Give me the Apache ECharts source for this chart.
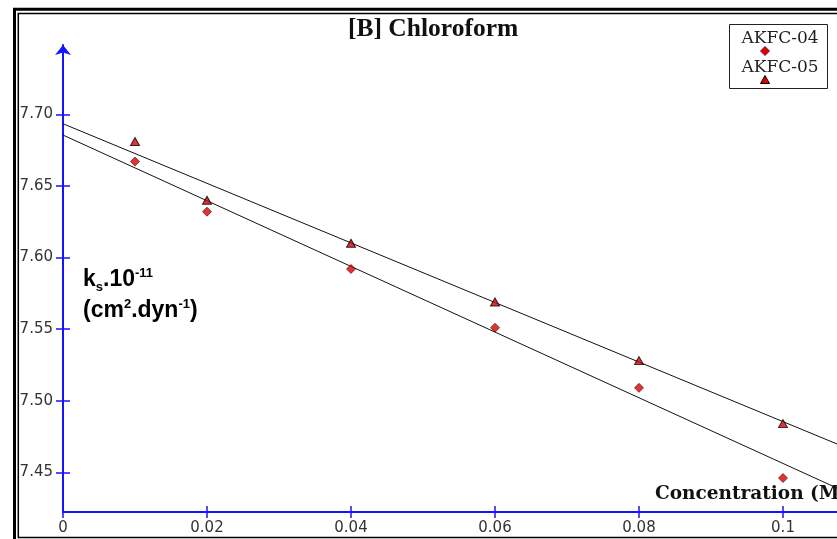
<!DOCTYPE html>
<html><head><meta charset="utf-8">
<script src="https://cdn.jsdelivr.net/npm/echarts@6/dist/echarts.min.js"></script>
<style>html,body{margin:0;padding:0;background:#fff}#c{width:837px;height:539px}</style>
</head><body><div id="c"></div>
<script>
// ---- data ----
const concentration = [0.01, 0.02, 0.04, 0.06, 0.08, 0.10];
const akfc04 = [7.667, 7.632, 7.592, 7.551, 7.509, 7.446];
const akfc05 = [7.681, 7.640, 7.610, 7.569, 7.528, 7.484];
const fitX = [0, 0.1075];
const fit04 = [7.6855, 7.4390];
const fit05 = [7.6934, 7.4698];
const xTicks = [0, 0.02, 0.04, 0.06, 0.08, 0.10];
const xTickLabels = ['0', '0.02', '0.04', '0.06', '0.08', '0.1'];
const yTicks = [7.45, 7.50, 7.55, 7.60, 7.65, 7.70];
const yTickLabels = ['7.45', '7.50', '7.55', '7.60', '7.65', '7.70'];
const seriesNames = ['AKFC-04', 'AKFC-05'];
const chartTitle = '[B] Chloroform';
const xTitle = 'Concentration (M)';

// ---- styling ----
const blue = '#1414ff';
const red = '#d80000';
const yMin = 7.4223, yMax = 7.7484;
const xMin = 0, xMax = 0.1075;

function lab(ticks, labels) {
  return function (v) {
    const i = ticks.findIndex(t => Math.abs(t - v) < 1e-9);
    return i >= 0 ? labels[i] : '';
  };
}

const chart = echarts.init(document.getElementById('c'), null, {renderer: 'canvas'});
const axisFont = {color: '#333', fontFamily: 'DejaVu Sans', fontSize: 15};

chart.setOption({
  animation: false,
  backgroundColor: '#fff',
  title: {
    text: chartTitle, left: 348, top: 16, padding: 0,
    textStyle: {fontFamily: 'Liberation Serif', fontWeight: 'bold', fontSize: 25.5, color: '#111'}
  },
  grid: {left: 63, top: 45, right: 0, bottom: 27, containLabel: false, outerBoundsMode: 'none'},
  xAxis: [
    {
      type: 'value', min: xMin, max: xMax, position: 'bottom',
      axisLine: {show: true, onZero: false, lineStyle: {color: blue, width: 2}},
      axisTick: {show: true, inside: false, length: 6, customValues: xTicks, lineStyle: {color: blue, width: 1.5}},
      axisLabel: Object.assign({show: true, customValues: xTicks, formatter: lab(xTicks, xTickLabels), margin: 9}, axisFont),
      splitLine: {show: false}
    },
    {
      type: 'value', min: xMin, max: xMax, position: 'bottom',
      axisLine: {show: false, onZero: false},
      axisTick: {show: true, inside: true, length: 6, customValues: xTicks, lineStyle: {color: blue, width: 1.5}},
      axisLabel: {show: false},
      splitLine: {show: false}
    }
  ],
  yAxis: [
    {
      type: 'value', min: yMin, max: yMax, position: 'left',
      axisLine: {show: true, onZero: false, lineStyle: {color: blue, width: 2}, symbol: ['none', 'arrow'], symbolSize: [12, 10]},
      axisTick: {show: true, inside: false, length: 7, customValues: yTicks, lineStyle: {color: blue, width: 1.5}},
      axisLabel: Object.assign({show: true, customValues: yTicks, formatter: lab(yTicks, yTickLabels), margin: 10}, axisFont),
      splitLine: {show: false}
    },
    {
      type: 'value', min: yMin, max: yMax, position: 'left',
      axisLine: {show: false, onZero: false},
      axisTick: {show: true, inside: true, length: 7, customValues: yTicks, lineStyle: {color: blue, width: 1.5}},
      axisLabel: {show: false},
      splitLine: {show: false}
    }
  ],
  series: [
    {
      name: seriesNames[0] + ' fit', type: 'line', xAxisIndex: 0, yAxisIndex: 0, z: 2,
      data: fitX.map((x, i) => [x, fit04[i]]), showSymbol: false, symbol: 'none',
      lineStyle: {color: '#111', width: 1}
    },
    {
      name: seriesNames[1] + ' fit', type: 'line', xAxisIndex: 0, yAxisIndex: 0, z: 2,
      data: fitX.map((x, i) => [x, fit05[i]]), showSymbol: false, symbol: 'none',
      lineStyle: {color: '#111', width: 1}
    },
    {
      name: seriesNames[0], type: 'scatter', xAxisIndex: 0, yAxisIndex: 0, z: 5,
      data: concentration.map((x, i) => [x, akfc04[i]]),
      symbol: 'diamond', symbolSize: [9, 9],
      itemStyle: {color: red, borderColor: '#500', borderWidth: 0.8}
    },
    {
      name: seriesNames[1], type: 'scatter', xAxisIndex: 0, yAxisIndex: 0, z: 5,
      data: concentration.map((x, i) => [x, akfc05[i]]),
      symbol: 'triangle', symbolSize: [9, 8],
      itemStyle: {color: red, borderColor: '#000', borderWidth: 1}
    }
  ],
  graphic: [
    // outer double frame
    {type: 'rect', z: 100, silent: true, shape: {x: 14.5, y: 9.3, width: 900, height: 600},
      style: {fill: 'none', stroke: '#000', lineWidth: 3}},
    {type: 'rect', z: 100, silent: true, shape: {x: 18.3, y: 13.6, width: 900, height: 524},
      style: {fill: 'none', stroke: '#000', lineWidth: 1.5}},
    // legend box
    {type: 'rect', z: 50, shape: {x: 729.5, y: 24.5, width: 98, height: 64},
      style: {fill: '#fff', stroke: '#222', lineWidth: 1}},
    {type: 'text', z: 51, x: 780, y: 38.5,
      style: {text: seriesNames[0], font: '17px "DejaVu Serif"', fill: '#222', align: 'center', verticalAlign: 'middle'}},
    {type: 'polygon', z: 51, shape: {points: [[765, 46.5], [769.5, 51], [765, 55.5], [760.5, 51]]},
      style: {fill: red, stroke: '#500', lineWidth: 0.8}},
    {type: 'text', z: 51, x: 780, y: 67.5,
      style: {text: seriesNames[1], font: '17px "DejaVu Serif"', fill: '#222', align: 'center', verticalAlign: 'middle'}},
    {type: 'polygon', z: 51, shape: {points: [[765, 75.5], [769.5, 83.5], [760.5, 83.5]]},
      style: {fill: red, stroke: '#000', lineWidth: 1}},
    // x axis title
    {type: 'text', z: 60, x: 655, y: 494,
      style: {text: xTitle, font: 'bold 18.5px "DejaVu Serif"', fill: '#111', align: 'left', verticalAlign: 'middle'}},
    // y axis title (two lines with sub/superscripts)
    {type: 'text', z: 60, x: 83, y: 280,
      style: {
        text: '{n|k}{sub|s}{n|.10}{sup|-11}', align: 'left', verticalAlign: 'middle',
        rich: {
          n: {fontFamily: 'Liberation Sans', fontWeight: 'bold', fontSize: 23, lineHeight: 27, color: '#111'},
          sub: {fontFamily: 'Liberation Sans', fontWeight: 'bold', fontSize: 13, lineHeight: 13, verticalAlign: 'bottom', color: '#111'},
          sup: {fontFamily: 'Liberation Sans', fontWeight: 'bold', fontSize: 13, lineHeight: 13, verticalAlign: 'top', color: '#111'}
        }
      }},
    {type: 'text', z: 60, x: 83, y: 311,
      style: {
        text: '{n|(cm}{sup|2}{n|.dyn}{sup|-1}{n|)}', align: 'left', verticalAlign: 'middle',
        rich: {
          n: {fontFamily: 'Liberation Sans', fontWeight: 'bold', fontSize: 23, lineHeight: 27, color: '#111'},
          sup: {fontFamily: 'Liberation Sans', fontWeight: 'bold', fontSize: 13, lineHeight: 13, verticalAlign: 'top', color: '#111'}
        }
      }}
  ]
});
</script>
</body></html>
